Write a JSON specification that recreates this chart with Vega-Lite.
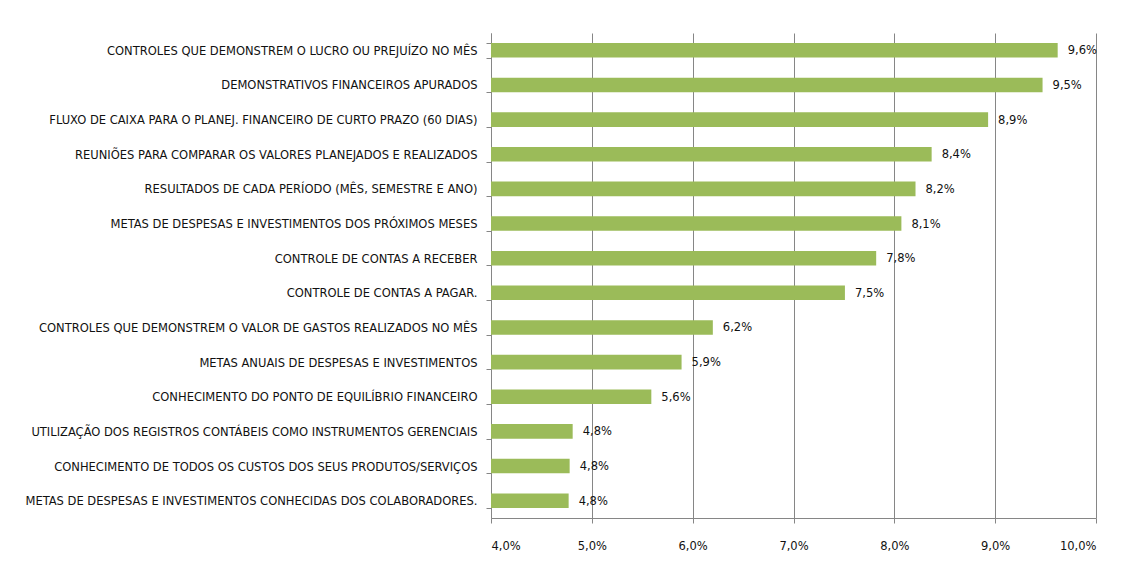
{
  "$schema": "https://vega.github.io/schema/vega-lite/v6.json",
  "width": 605,
  "height": 485,
  "autosize": "none",
  "padding": {"left": 491, "top": 33, "right": 32, "bottom": 50},
  "background": "white",
  "config": {
    "view": {"stroke": null},
    "locale": {"number": {"decimal": ",", "thousands": ".", "grouping": [3], "currency": ["", ""]}}
  },
  "data": {
    "values": [
      {"item": "CONTROLES QUE DEMONSTREM O LUCRO OU PREJUÍZO NO MÊS", "value": 0.0962},
      {"item": "DEMONSTRATIVOS FINANCEIROS APURADOS", "value": 0.0947},
      {"item": "FLUXO DE CAIXA PARA O PLANEJ. FINANCEIRO DE CURTO PRAZO (60 DIAS)", "value": 0.0893},
      {"item": "REUNIÕES PARA COMPARAR OS VALORES PLANEJADOS E REALIZADOS", "value": 0.0837},
      {"item": "RESULTADOS DE CADA PERÍODO (MÊS, SEMESTRE E ANO)", "value": 0.0821},
      {"item": "METAS DE DESPESAS E INVESTIMENTOS DOS PRÓXIMOS MESES", "value": 0.0807},
      {"item": "CONTROLE DE CONTAS A RECEBER", "value": 0.0782},
      {"item": "CONTROLE DE CONTAS A PAGAR.", "value": 0.0751},
      {"item": "CONTROLES QUE DEMONSTREM O VALOR DE GASTOS REALIZADOS NO MÊS", "value": 0.062},
      {"item": "METAS ANUAIS DE DESPESAS E INVESTIMENTOS", "value": 0.0589},
      {"item": "CONHECIMENTO DO PONTO DE EQUILÍBRIO FINANCEIRO", "value": 0.0559},
      {"item": "UTILIZAÇÃO DOS REGISTROS CONTÁBEIS COMO INSTRUMENTOS GERENCIAIS", "value": 0.0481},
      {"item": "CONHECIMENTO DE TODOS OS CUSTOS DOS SEUS PRODUTOS/SERVIÇOS", "value": 0.0478},
      {"item": "METAS DE DESPESAS E INVESTIMENTOS CONHECIDAS DOS COLABORADORES.", "value": 0.0477}
    ]
  },
  "encoding": {
    "y": {
      "field": "item",
      "type": "nominal",
      "sort": null,
      "title": null,
      "scale": {"paddingInner": 0.58, "paddingOuter": 0.29},
      "axis": {
        "labelFont": "Liberation Sans Narrow, DejaVu Sans Condensed, sans-serif",
        "labelFontSize": 12.8,
        "labelColor": "#111111",
        "labelLimit": 0,
        "labelPadding": 9,
        "tickBand": "extent",
        "tickSize": 5,
        "tickColor": "#868686",
        "domainColor": "#868686",
        "grid": false
      }
    }
  },
  "layer": [
    {
      "mark": {"type": "bar", "color": "#9BBB59", "clip": true},
      "encoding": {
        "x": {
          "field": "value",
          "type": "quantitative",
          "title": null,
          "scale": {"domain": [0.04, 0.10], "zero": false, "nice": false},
          "axis": {
            "values": [0.04, 0.05, 0.06, 0.07, 0.08, 0.09, 0.10],
            "format": ".1%",
            "labelFont": "Liberation Sans Narrow, DejaVu Sans Condensed, sans-serif",
            "labelFontSize": 12.8,
            "labelColor": "#111111",
            "labelPadding": 16,
            "tickSize": 5,
            "tickColor": "#868686",
            "domainColor": "#868686",
            "grid": true,
            "gridColor": "#868686",
            "gridOpacity": 1
          }
        }
      }
    },
    {
      "mark": {
        "type": "text",
        "align": "left",
        "baseline": "middle",
        "dx": 10,
        "font": "Liberation Sans Narrow, DejaVu Sans Condensed, sans-serif",
        "fontSize": 12.8,
        "color": "#111111"
      },
      "encoding": {
        "x": {"field": "value", "type": "quantitative"},
        "text": {"field": "value", "type": "quantitative", "format": ".1%"}
      }
    }
  ]
}
